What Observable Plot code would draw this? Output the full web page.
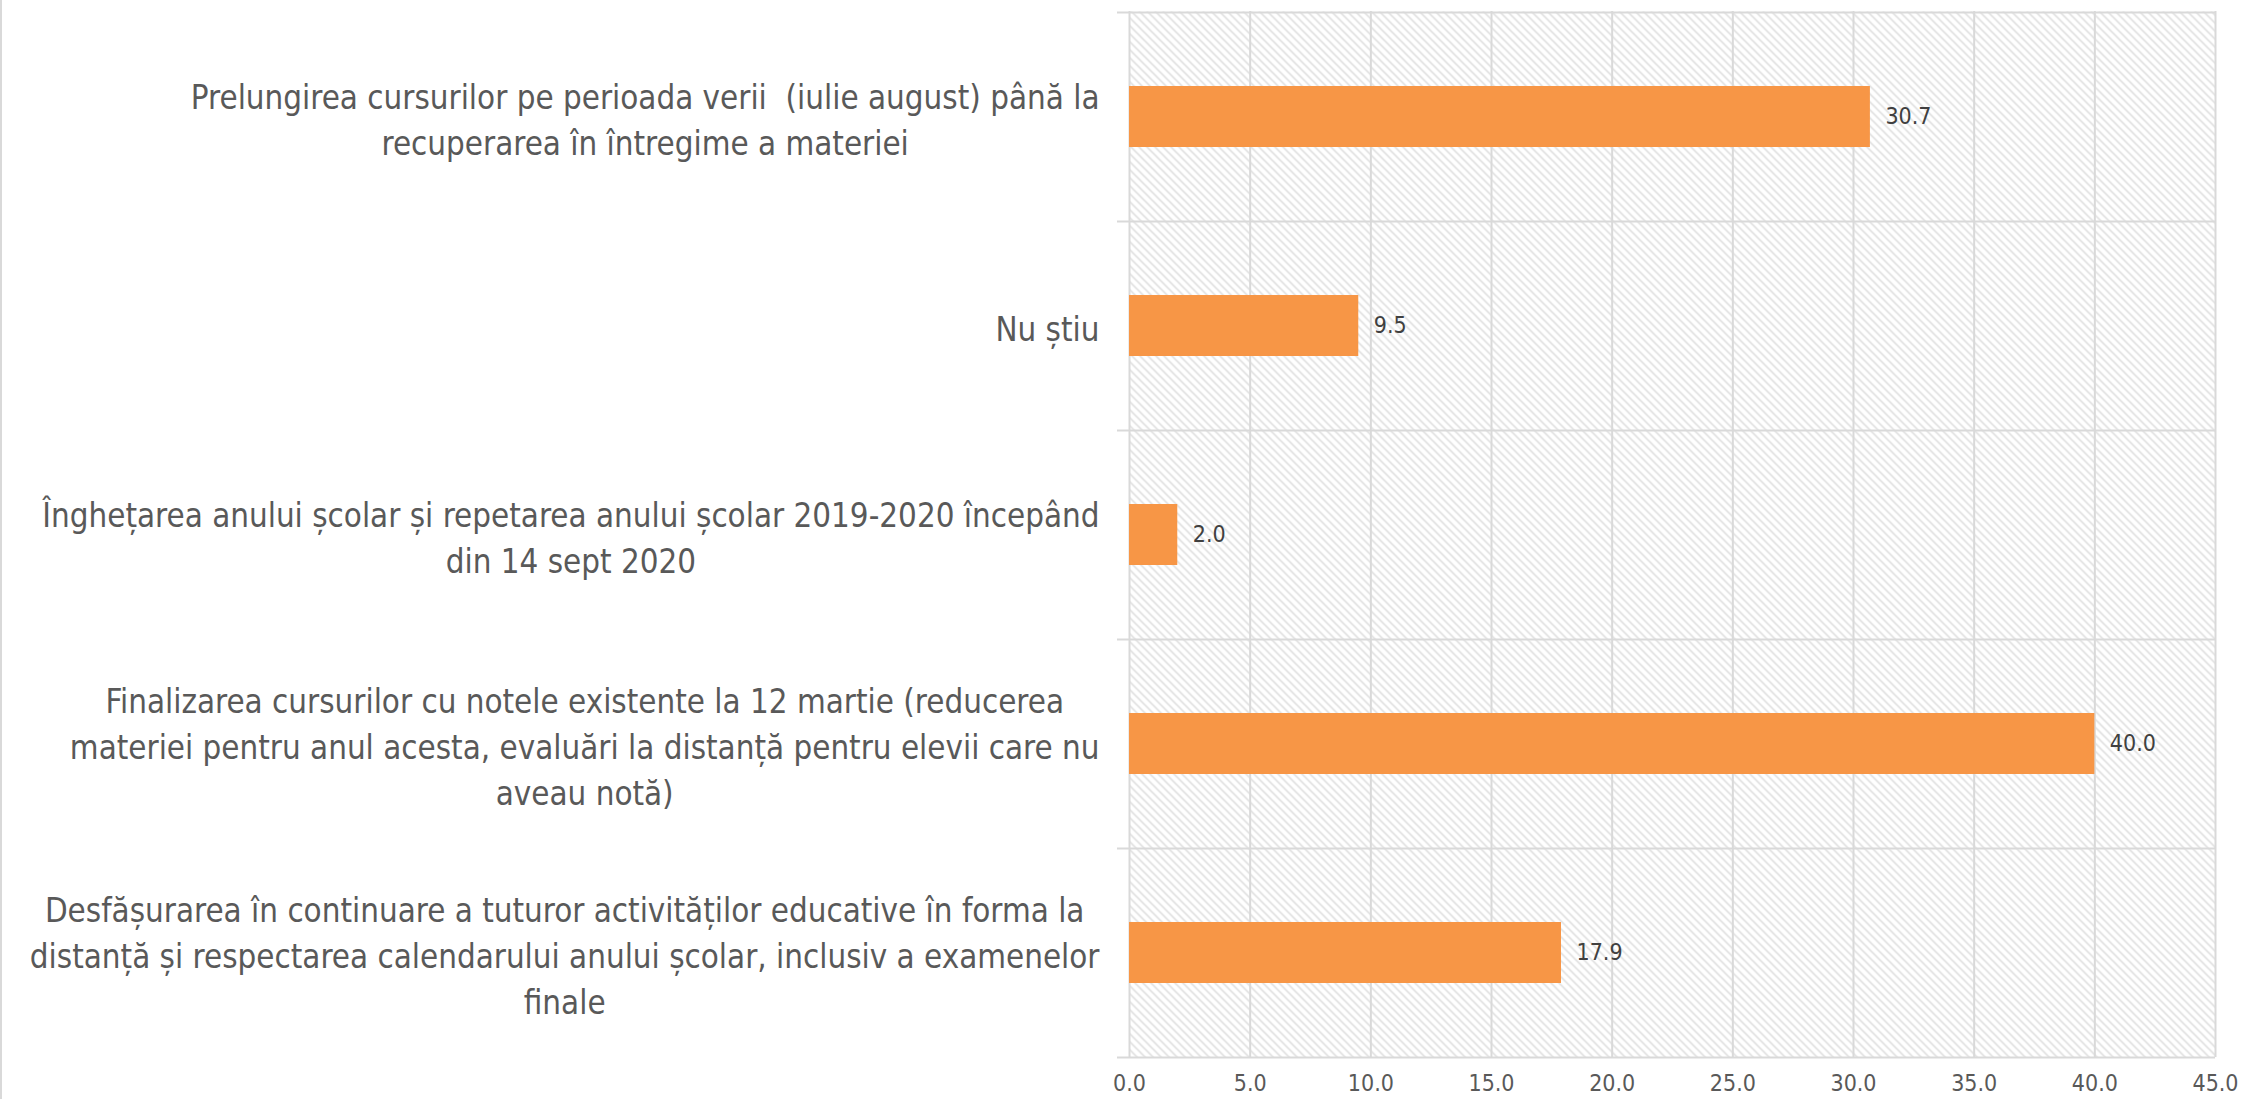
<!DOCTYPE html>
<html><head><meta charset="utf-8">
<script src="https://cdn.jsdelivr.net/npm/d3@7"></script>
<script src="https://cdn.jsdelivr.net/npm/@observablehq/plot@0.6"></script>
<style>
body{margin:0;background:#fff}
#wrap{position:relative;width:2241px;height:1099px;overflow:hidden}
#border{position:absolute;left:0;top:0;width:2px;height:1099px;background:#d9d9d9}
</style>
</head><body><div id="wrap"><div id="border"></div></div>
<script>
const categories = [
  "Prelungirea cursurilor pe perioada verii  (iulie august) până la\nrecuperarea în întregime a materiei",
  "Nu știu",
  "Înghețarea anului școlar și repetarea anului școlar 2019-2020 începând\ndin 14 sept 2020",
  "Finalizarea cursurilor cu notele existente la 12 martie (reducerea\nmateriei pentru anul acesta, evaluări la distanță pentru elevii care nu\naveau notă)",
  "Desfășurarea în continuare a tuturor activităților educative în forma la\ndistanță și respectarea calendarului anului școlar, inclusiv a examenelor\nfinale"
];
const values = [30.7, 9.5, 2.0, 40.0, 17.9];
const xTicks = [0, 5, 10, 15, 20, 25, 30, 35, 40, 45];

const data = categories.map((c, i) => ({category: c, value: values[i]}));

const W = 2241, H = 1099;
const mL = 1129, mR = 26, mT = 11, mB = 42;
const step = (H - mT - mB) / categories.length;

const ctx = document.createElement("canvas").getContext("2d");
function pickFont(cands) {
  const test = "materiei pentru anul acesta, evaluări la distanță";
  for (const f of cands) {
    let differs = true;
    for (const fb of ["monospace", "serif"]) {
      ctx.font = `40px ${fb}`; const w0 = ctx.measureText(test).width;
      ctx.font = `40px "${f}", ${fb}`; const w1 = ctx.measureText(test).width;
      if (Math.abs(w1 - w0) < 0.5) differs = false;
    }
    if (differs) return f;
  }
  return "sans-serif";
}
const labelFont = pickFont(["Liberation Sans Narrow", "DejaVu Sans Condensed", "Open Sans"]);
const allLines = categories.flatMap(c => c.split("\n"));
ctx.font = `40px "${labelFont}"`;
const widest = d3.max(allLines, l => ctx.measureText(l).width);
const labelSize = Math.min(38, 40 * 1070 / widest);
ctx.font = `${labelSize}px "${labelFont}"`;
const boxRight = 30; // gap between label box and axis

const labelMarks = categories.map(c => {
  const mw = d3.max(c.split("\n"), l => ctx.measureText(l).width);
  return Plot.text([c], {
    y: d => d, text: d => d, frameAnchor: "left",
    dx: -(boxRight + mw / 2), textAnchor: "middle",
    lineHeight: 46 / labelSize, fontSize: labelSize,
    fontFamily: labelFont, fill: "#595959"
  });
});

const defs = () => {
  const ns = "http://www.w3.org/2000/svg";
  const d = document.createElementNS(ns, "defs");
  d.innerHTML = `<pattern id="hatch" width="8" height="8" patternUnits="userSpaceOnUse">
    <rect width="8" height="8" fill="#ffffff"/>
    <path d="M-2,-2 L10,10 M-2,6 L2,10 M6,-2 L10,2" stroke="#dcdcdc" stroke-width="1.5"/>
  </pattern>`;
  return d;
};

const chart = Plot.plot({
  width: W, height: H,
  marginLeft: mL, marginRight: mR, marginTop: mT, marginBottom: mB,
  style: {fontFamily: labelFont, background: "#fff"},
  x: {domain: [0, 45], axis: null, label: null},
  y: {domain: categories, paddingInner: 0.71, paddingOuter: 0.355, axis: null, label: null},
  marks: [
    defs,
    Plot.frame({fill: "url(#hatch)", stroke: null}),
    Plot.ruleX(xTicks, {stroke: "#d9d9d9", strokeWidth: 2}),
    Plot.ruleY(categories, {y: d => d, dy: -step / 2, insetLeft: -12, stroke: "#d9d9d9", strokeWidth: 2}),
    Plot.ruleY([categories[categories.length - 1]], {y: d => d, dy: step / 2, insetLeft: -12, stroke: "#d9d9d9", strokeWidth: 2}),
    Plot.barX(data, {x: "value", y: "category", fill: "#F79646"}),
    Plot.text(data, {x: "value", y: "category", text: d => d.value.toFixed(1), textAnchor: "start", dx: 15, fontSize: 23, fill: "#404040", fontFamily: labelFont}),
    Plot.axisX(xTicks, {label: null, tickFormat: d => d.toFixed(1), tickSize: 0, tickPadding: 17, fontSize: 23, fill: "#595959", fontFamily: labelFont}),
    ...labelMarks
  ]
});
document.getElementById("wrap").prepend(chart);
</script>
</body></html>
